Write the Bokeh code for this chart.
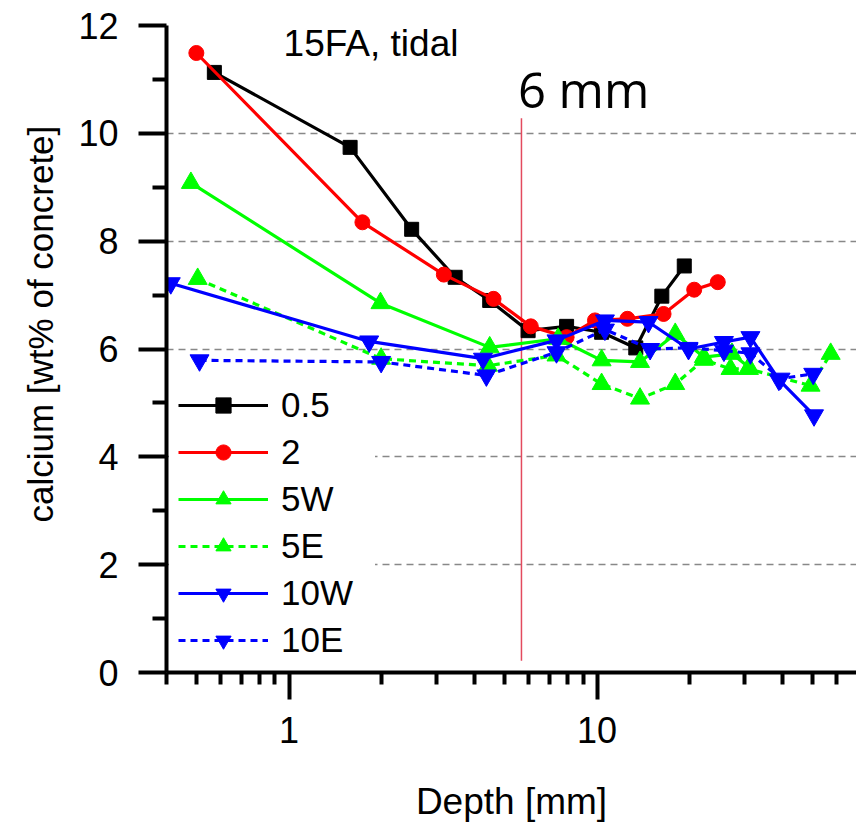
import math
from bokeh.plotting import figure
from bokeh.models import (Range1d, FixedTicker, Label, Legend, LegendItem,
                          BasicTickFormatter, Title)
from bokeh.embed import file_html
from bokeh.resources import INLINE

# ---- data ----
x_05 = [0.572, 1.578, 2.50, 3.46, 4.48, 5.97, 7.96, 10.34, 13.35, 16.22, 19.18]
y_05 = [11.13, 9.74, 8.22, 7.33, 6.90, 6.34, 6.42, 6.31, 6.02, 6.98, 7.54]

x_2 = [0.50, 1.73, 3.18, 4.61, 6.09, 7.96, 9.84, 12.54, 16.43, 20.66, 24.64]
y_2 = [11.49, 8.35, 7.38, 6.93, 6.42, 6.22, 6.53, 6.56, 6.65, 7.10, 7.24]

x_5W = [0.48, 1.98, 4.48, 7.47, 10.34, 13.78, 17.93, 22.2, 27.4, 31.1]
y_5W = [9.08, 6.85, 6.03, 6.19, 5.79, 5.76, 6.28, 5.85, 5.91, 5.66]

x_5E = [0.505, 1.99, 4.42, 7.38, 10.34, 13.78, 17.93, 22.2, 27.1, 31.1, 49.3, 57.3]
y_5E = [7.30, 5.82, 5.69, 5.88, 5.35, 5.08, 5.35, 5.80, 5.63, 5.63, 5.32, 5.91]

x_10W = [0.413, 1.82, 4.26, 7.38, 10.6, 14.68, 19.8, 25.8, 31.45, 38.9, 50.6]
y_10W = [7.22, 6.14, 5.82, 6.16, 6.53, 6.50, 6.00, 6.13, 6.22, 5.43, 4.77]

x_10E = [0.512, 1.99, 4.37, 7.38, 10.6, 14.86, 19.8, 25.8, 31.45, 39.4, 50.3]
y_10E = [5.79, 5.76, 5.51, 5.94, 6.36, 6.00, 6.02, 5.97, 5.92, 5.45, 5.54]

marker_x = [5.68, 5.68]
marker_y = [0.22, 10.28]

x_ticks = [1, 10]
x_minor = [0.4, 0.5, 0.6, 0.7, 0.8, 0.9, 2, 3, 4, 5, 6, 7, 8, 9, 20, 30, 40, 50, 60]
y_ticks = [0, 2, 4, 6, 8, 10, 12]
y_minor = [1, 3, 5, 7, 9, 11]
grid_ticks = [2, 4, 6, 8, 10]

FONT = "Liberation Sans"

p = figure(width=856, height=823, frame_width=690, frame_height=647,
           x_axis_type="log", x_range=Range1d(0.4, 69.5), y_range=Range1d(0, 12),
           output_backend="svg", toolbar_location=None,
           min_border_left=166, min_border_right=0, min_border_top=25,
           min_border_bottom=151)
p.outline_line_color = None
p.background_fill_color = "white"
p.border_fill_color = "white"

# grid
p.xgrid.visible = False
p.ygrid.ticker = FixedTicker(ticks=grid_ticks)
p.ygrid.grid_line_color = "#888888"
p.ygrid.grid_line_width = 1.5
p.ygrid.grid_line_dash = "7 5"

# axes
xa = p.xaxis[0]
xa.ticker = FixedTicker(ticks=x_ticks, minor_ticks=x_minor)
xa.formatter = BasicTickFormatter()
ya = p.yaxis[0]
ya.ticker = FixedTicker(ticks=y_ticks, minor_ticks=y_minor)
for ax in (xa, ya):
    ax.axis_line_width = 4
    ax.axis_line_color = "black"
    ax.major_tick_line_width = 4
    ax.minor_tick_line_width = 4
    ax.major_tick_in = 0
    ax.minor_tick_in = 0
    ax.major_label_text_font = FONT
    ax.major_label_text_font_size = "36px"
    ax.major_label_text_color = "black"
xa.major_tick_out = 27
xa.minor_tick_out = 12
xa.major_label_standoff = 17
ya.major_tick_out = 28
ya.minor_tick_out = 14
ya.major_label_standoff = 20

xa.axis_label = "Depth [mm]"
xa.axis_label_text_font = FONT
xa.axis_label_text_font_size = "37px"
xa.axis_label_text_font_style = "normal"
xa.axis_label_text_color = "black"
xa.axis_label_standoff = 35

# y-axis title placed in the left panel, shifted up like the reference
ytitle = Title(text="calcium [wt% of concrete]", align="left", offset=150,
               text_font=FONT, text_font_size="35px", text_font_style="normal",
               text_color="black", standoff=31)
p.add_layout(ytitle, "left")

# vertical marker line at ~6 mm
p.line(marker_x, marker_y, line_color="#e34a5e", line_width=1.5)

# series
series = [
    ("0.5", x_05, y_05, "black", "square", 14, None),
    ("2", x_2, y_2, "red", "circle", 15, None),
    ("5W", x_5W, y_5W, "#00ff00", "triangle", 19, None),
    ("5E", x_5E, y_5E, "#00ff00", "triangle", 19, "7 5"),
    ("10W", x_10W, y_10W, "blue", "inverted_triangle", 19, None),
    ("10E", x_10E, y_10E, "blue", "inverted_triangle", 19, "7 5"),
]
items = []
for name, xs, ys, col, mk, sz, dash in series:
    kw = {}
    if dash:
        kw["line_dash"] = dash
    lr = p.line(xs, ys, line_color=col, line_width=3.2, **kw)
    sr = p.scatter(xs, ys, marker=mk, size=sz, fill_color=col, line_color=col)
    items.append(LegendItem(label=name, renderers=[lr, sr]))

legend = Legend(items=items, location=(3, 3), padding=9, margin=0,
                glyph_width=90, glyph_height=38, label_height=40, spacing=7,
                label_width=85, label_standoff=13, label_text_font=FONT,
                label_text_font_size="35px", label_text_color="black",
                background_fill_alpha=1.0,
                background_fill_color="white", border_line_alpha=0)
p.add_layout(legend)

# texts
p.add_layout(Label(x=0.96, y=11.66, text="15FA, tidal", text_font=FONT,
                   text_font_size="37px", text_baseline="alphabetic",
                   text_align="left", text_color="black"))
p.add_layout(Label(x=5.53, y=10.82, text="6 mm", text_font="Open Sans",
                   text_font_size="49px", text_baseline="alphabetic",
                   text_align="left", text_color="black"))

open("out.html", "w").write(file_html(p, INLINE))
